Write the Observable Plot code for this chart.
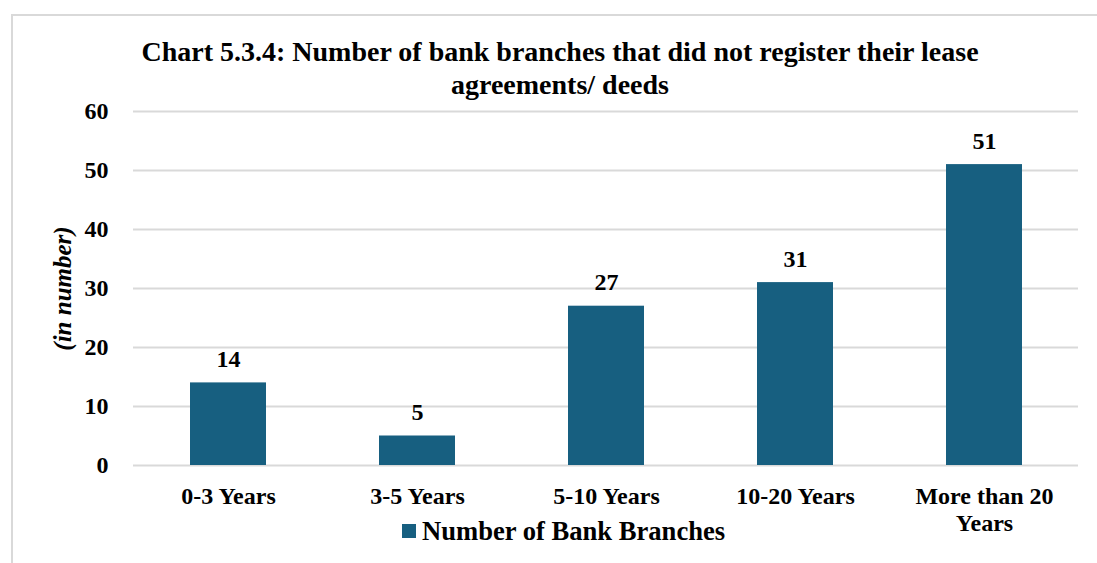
<!DOCTYPE html>
<html>
<head>
<meta charset="utf-8">
<script src="https://cdn.jsdelivr.net/npm/d3@7"></script>
<script src="https://cdn.jsdelivr.net/npm/@observablehq/plot@0.6"></script>
<style>
  html, body { margin: 0; padding: 0; background: #fff; }
  #wrap { position: relative; width: 1097px; height: 563px; overflow: hidden; font-family: "Liberation Serif", "Times New Roman", serif; }
  #frame { position: absolute; left: 11px; top: 14px; width: 1200px; height: 700px; border-left: 2px solid #d9d9d9; border-top: 2px solid #d9d9d9; }
  #title { position: absolute; left: 110px; width: 900px; top: 35px; text-align: center; font-weight: bold; font-size: 28px; line-height: 33px; color: #000; }
  #chart { position: absolute; left: 0; top: 0; }
  #legend { position: absolute; left: 402px; top: 515px; height: 32px; font-weight: bold; font-size: 26.6px; color: #000; display: flex; align-items: center; white-space: nowrap; }
  #legend .sw { width: 14px; height: 14px; background: #175f80; margin-right: 6px; }
</style>
</head>
<body>
<div id="wrap">
  <div id="frame"></div>
  <div id="chart"></div>
  <div id="title">Chart 5.3.4: Number of bank branches that did not register their lease<br>agreements/ deeds</div>
  <div id="legend"><span class="sw"></span><span>Number of Bank Branches</span></div>
</div>
<script>
const categories = ["0-3 Years", "3-5 Years", "5-10 Years", "10-20 Years", "More than 20 Years"];
const categoryLabels = ["0-3 Years", "3-5 Years", "5-10 Years", "10-20 Years", "More than 20\nYears"];
const values = [14, 5, 27, 31, 51];
const yTicks = [0, 10, 20, 30, 40, 50, 60];
const seriesName = "Number of Bank Branches";
const yLabel = "(in number)";

const data = categories.map((c, i) => ({category: c, value: values[i]}));
const labelMap = new Map(categories.map((c, i) => [c, categoryLabels[i]]));
const barColor = "#175f80";

const chart = Plot.plot({
  width: 1097,
  height: 563,
  marginTop: 111,
  marginBottom: 98,
  marginLeft: 133,
  marginRight: 19,
  style: {fontFamily: "'Liberation Serif', 'Times New Roman', serif", fontWeight: "bold", color: "#000", background: "transparent"},
  x: {domain: categories, paddingInner: 0.6, paddingOuter: 0.3, label: null},
  y: {domain: [0, 60], ticks: yTicks, label: null},
  marks: [
    Plot.gridY(yTicks, {stroke: "#d9d9d9", strokeOpacity: 1, strokeWidth: 2}),
    Plot.barY(data, {x: "category", y: "value", fill: barColor}),
    Plot.text(data, {x: "category", y: "value", text: d => String(d.value), dy: -16, lineAnchor: "bottom", fontSize: 24, fontWeight: "bold", fill: "#000"}),
    Plot.axisY({ticks: yTicks, tickSize: 0, tickPadding: 25, fontSize: 24, fontWeight: "bold", label: null}),
    Plot.axisX({tickSize: 0, tickPadding: 19, fontSize: 24, fontWeight: "bold", lineHeight: 1.125, tickFormat: d => labelMap.get(d), label: null}),
    Plot.text([yLabel], {frameAnchor: "left", dx: -71, rotate: -90, textAnchor: "middle", fontSize: 25, fontWeight: "bold", fontStyle: "italic", fill: "#000"})
  ]
});
document.getElementById("chart").appendChild(chart);
</script>
</body>
</html>
